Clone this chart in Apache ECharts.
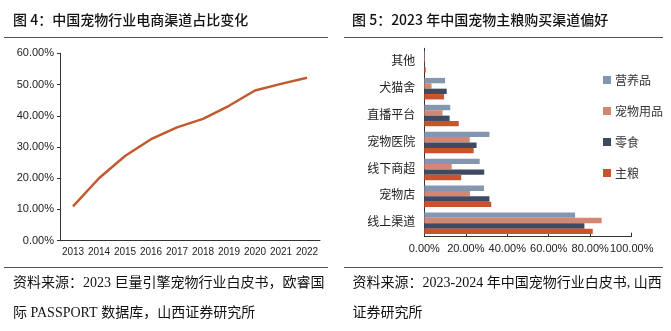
<!DOCTYPE html>
<html>
<head>
<meta charset="utf-8">
<script src="https://cdn.jsdelivr.net/npm/echarts@6/dist/echarts.min.js"></script>
<style>
  html, body { margin: 0; padding: 0; background: #fff; }
  #main { width: 671px; height: 331px; }
</style>
</head>
<body>
<div id="main"></div>
<script>
// 图 4: e-commerce share of China's pet industry
const years = ['2013', '2014', '2015', '2016', '2017', '2018', '2019', '2020', '2021', '2022'];
const ecomShare = [11.0, 20.0, 27.1, 32.5, 36.3, 39.0, 43.2, 48.1, 50.2, 52.2];
const shareTicks = [0, 10, 20, 30, 40, 50, 60];

// 图 5: purchase channel preference, 2023 (channels listed bottom to top)
const channels = ['线上渠道', '宠物店', '线下商超', '宠物医院', '直播平台', '犬猫舍', '其他'];
const nutrition = [72.7, 28.8, 26.7, 31.4, 12.5, 10.0, 0.3];  // 营养品
const supplies  = [85.5, 22.0, 13.2, 21.9, 8.8, 3.5, 0.3];    // 宠物用品
const snacks    = [77.2, 31.4, 28.9, 25.2, 12.2, 10.8, 0.3];  // 零食
const staple    = [81.2, 32.3, 17.8, 23.8, 16.6, 9.5, 0.7];   // 主粮
const barTicks = [0, 20, 40, 60, 80, 100];

const chart = echarts.init(document.getElementById('main'), null, { renderer: 'canvas' });

const latin = 'Arial, "Liberation Sans", sans-serif';
const serifMix = '"Liberation Serif", "Noto Sans CJK SC", serif';
const cjkSans = '"Noto Sans CJK SC", sans-serif';
const axisCol = '#333';

const pct = v => v.toFixed(2) + '%';

chart.setOption({
  animation: false,
  backgroundColor: '#fff',
  grid: [
    { left: 60, right: 351, top: 53.3, bottom: 90.3 },
    { left: 424.3, right: 39.3, top: 48.3, bottom: 94.3 }
  ],
  xAxis: [
    {
      gridIndex: 0, type: 'category', data: years, boundaryGap: true,
      axisLine: { lineStyle: { color: axisCol, width: 1 } },
      axisTick: { inside: true, length: 4, lineStyle: { color: axisCol } },
      axisLabel: { color: '#222', fontSize: 10, fontFamily: latin, margin: 7, interval: 0 }
    },
    {
      gridIndex: 1, type: 'value', min: barTicks[0], max: barTicks[barTicks.length - 1], interval: 20,
      splitLine: { show: false },
      axisLine: { show: true, lineStyle: { color: axisCol, width: 1 } },
      axisTick: { show: true, inside: true, length: 4, lineStyle: { color: axisCol } },
      axisLabel: { color: '#222', fontSize: 11, fontFamily: latin, margin: 7, formatter: pct }
    }
  ],
  yAxis: [
    {
      gridIndex: 0, type: 'value', min: shareTicks[0], max: shareTicks[shareTicks.length - 1], interval: 10,
      splitLine: { show: false },
      axisLine: { show: true, lineStyle: { color: axisCol, width: 1 } },
      axisTick: { show: true, length: 3, lineStyle: { color: axisCol } },
      axisLabel: { color: '#222', fontSize: 11, fontFamily: latin, margin: 6, formatter: pct }
    },
    {
      gridIndex: 1, type: 'category', data: channels, boundaryGap: true,
      axisLine: { lineStyle: { color: axisCol, width: 1 } },
      axisTick: { inside: true, length: 3, lineStyle: { color: axisCol } },
      axisLabel: { color: '#222', fontSize: 12, fontFamily: serifMix, margin: 9, interval: 0 }
    }
  ],
  legend: {
    orient: 'vertical', left: 598, top: 69, itemWidth: 8, itemHeight: 8, itemGap: 19,
    icon: 'rect',
    textStyle: { color: '#333', fontSize: 12, fontFamily: cjkSans, padding: [0, 0, 0, -1] },
    data: ['营养品', '宠物用品', '零食', '主粮']
  },
  series: [
    {
      name: 'ecom', type: 'line', xAxisIndex: 0, yAxisIndex: 0, data: ecomShare,
      showSymbol: false, lineStyle: { color: '#C15A2E', width: 2.5 }, itemStyle: { color: '#C15A2E' }
    },
    // within each channel the first bar series sits at the top of the band
    { name: '营养品', type: 'bar', xAxisIndex: 1, yAxisIndex: 1, data: nutrition,
      itemStyle: { color: '#8496B0' }, barGap: 0, barCategoryGap: '20%' },
    { name: '宠物用品', type: 'bar', xAxisIndex: 1, yAxisIndex: 1, data: supplies,
      itemStyle: { color: '#D28773' }, barGap: 0, barCategoryGap: '20%' },
    { name: '零食', type: 'bar', xAxisIndex: 1, yAxisIndex: 1, data: snacks,
      itemStyle: { color: '#3D4A62' }, barGap: 0, barCategoryGap: '20%' },
    { name: '主粮', type: 'bar', xAxisIndex: 1, yAxisIndex: 1, data: staple,
      itemStyle: { color: '#C9532B' }, barGap: 0, barCategoryGap: '20%' }
  ],
  graphic: [
    { type: 'text', left: 13, top: 13, style: { text: '图 4：中国宠物行业电商渠道占比变化', fill: '#111', font: '500 14px ' + cjkSans } },
    { type: 'text', left: 352, top: 13, style: { text: '图 5：2023 年中国宠物主粮购买渠道偏好', fill: '#111', font: '500 14px ' + cjkSans } },
    { type: 'line', shape: { x1: 4, y1: 37.5, x2: 328, y2: 37.5 }, style: { stroke: '#555', lineWidth: 1.2 } },
    { type: 'line', shape: { x1: 344, y1: 37.5, x2: 663, y2: 37.5 }, style: { stroke: '#555', lineWidth: 1.2 } },
    { type: 'line', shape: { x1: 4, y1: 267.5, x2: 328, y2: 267.5 }, style: { stroke: '#555', lineWidth: 1.2 } },
    { type: 'line', shape: { x1: 344, y1: 267.5, x2: 663, y2: 267.5 }, style: { stroke: '#555', lineWidth: 1.2 } },
    { type: 'text', left: 13, top: 276, style: { text: '资料来源：2023 巨量引擎宠物行业白皮书，欧睿国', fill: '#111', font: '14px ' + serifMix } },
    { type: 'text', left: 13, top: 306, style: { text: '际 PASSPORT 数据库，山西证券研究所', fill: '#111', font: '14px ' + serifMix } },
    { type: 'text', left: 352.5, top: 276, style: { text: '资料来源：2023-2024 年中国宠物行业白皮书, 山西', fill: '#111', font: '14px ' + serifMix } },
    { type: 'text', left: 352.5, top: 306, style: { text: '证券研究所', fill: '#111', font: '14px ' + serifMix } }
  ]
});
</script>
</body>
</html>
